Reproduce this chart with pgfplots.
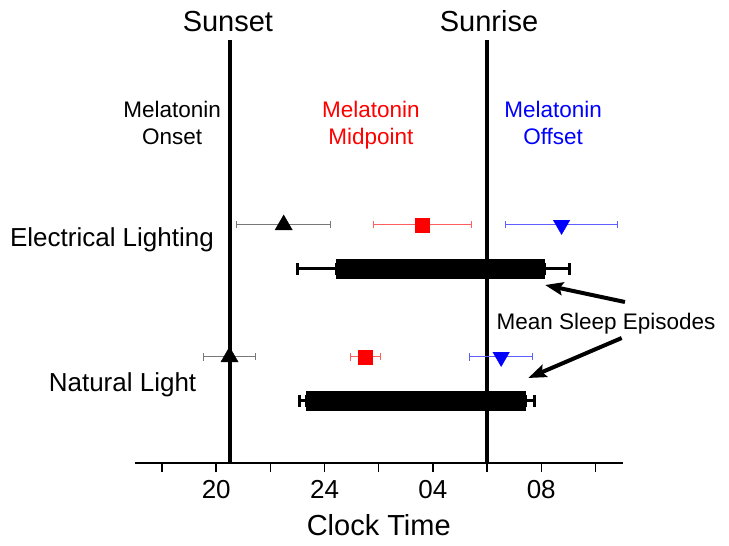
\documentclass[border=0pt]{standalone}
\usepackage{fontspec}
\setmainfont{Liberation Sans}
\usepackage{pgfplots}
\pgfplotsset{compat=1.18}
\usetikzlibrary{arrows.meta}

\definecolor{errgray}{RGB}{120,120,120}
\definecolor{errred}{RGB}{255,95,95}
\definecolor{errblue}{RGB}{95,95,255}

\newcommand\bigfont{\fontsize{29bp}{34bp}\selectfont}
\newcommand\midfont{\fontsize{26bp}{30bp}\selectfont}
\newcommand\smallfont{\fontsize{22.5bp}{27bp}\selectfont}

\begin{document}
\begin{tikzpicture}
\path[use as bounding box] (-135bp,-83bp) rectangle (594bp,463bp);
\begin{axis}[
    scale only axis,
    width=487.5bp, height=423bp,
    xmin=17, xmax=35, ymin=0, ymax=423,
    axis x line*=bottom, axis y line=none,
    x axis line style={line width=1.8bp, -},
    xtick={18,20,...,34},
    xticklabels={,20,,24,,04,,08,},
    tick align=outside,
    major tick length=9bp,
    xtick style={line width=1.5bp, black},
    xticklabel style={font=\fontsize{26bp}{30bp}\selectfont, yshift=-5bp},
    /pgf/number format/assume math mode=true,
    xlabel={Clock Time},
    xlabel style={font=\bigfont, at={(axis description cs:0.5,0)}, anchor=base, yshift=-72bp},
    clip=false,
]

% sunset / sunrise
\addplot[black, line width=4bp] coordinates {(20.5,0) (20.5,423)};
\addplot[black, line width=4bp] coordinates {(30.0,0) (30.0,423)};

% mean sleep episodes: whiskers then bar
\addplot[black, line width=3bp, mark=|, mark size=6bp, mark options={line width=3bp}]
    coordinates {(23.01,194) (24.43,194)};
\addplot[black, line width=3bp, mark=|, mark size=6bp, mark options={line width=3bp}]
    coordinates {(32.12,194) (33.03,194)};
\addplot[black, line width=20bp] coordinates {(24.43,194) (32.12,194)};

\addplot[black, line width=3bp, mark=|, mark size=6bp, mark options={line width=3bp}]
    coordinates {(23.09,62) (23.32,62)};
\addplot[black, line width=3bp, mark=|, mark size=6bp, mark options={line width=3bp}]
    coordinates {(31.42,62) (31.75,62)};
\addplot[black, line width=20bp] coordinates {(23.32,62) (31.42,62)};

% melatonin onset
\addplot[only marks, black, mark=triangle*, mark size=10bp,
    error bars/.cd, x dir=both, x explicit, error mark=|,
    error bar style={errgray, line width=1bp},
    error mark options={errgray, line width=1bp, mark size=3.5bp}]
    coordinates {(22.49,238) +- (1.73,0) (20.49,106) +- (0.95,0)};

% melatonin midpoint
\addplot[only marks, red, mark=square*, mark size=7bp,
    error bars/.cd, x dir=both, x explicit, error mark=|,
    error bar style={errred, line width=1bp},
    error mark options={errred, line width=1bp, mark size=3.5bp}]
    coordinates {(27.62,238) +- (1.82,0) (25.50,106) +- (0.55,0)};

% melatonin offset
\addplot[only marks, blue, mark=triangle*, mark size=9.5bp, mark options={rotate=180},
    error bars/.cd, x dir=both, x explicit, error mark=|,
    error bar style={errblue, line width=1bp},
    error mark options={errblue, line width=1bp, mark size=3.5bp}]
    coordinates {(32.75,238) +- (2.07,0) (30.52,106) +- (1.17,0)};

% annotations
\node[anchor=base, font=\bigfont] at (axis cs:20.43,431.3) {Sunset};
\node[anchor=base, font=\bigfont] at (axis cs:30.07,431.3) {Sunrise};

\node[anchor=base, font=\smallfont] at (axis cs:18.37,345.7) {Melatonin};
\node[anchor=base, font=\smallfont] at (axis cs:18.37,318) {Onset};
\node[anchor=base, font=\smallfont, red] at (axis cs:25.71,345.7) {Melatonin};
\node[anchor=base, font=\smallfont, red] at (axis cs:25.71,318) {Midpoint};
\node[anchor=base, font=\smallfont, blue] at (axis cs:32.44,345.7) {Melatonin};
\node[anchor=base, font=\smallfont, blue] at (axis cs:32.44,318) {Offset};

\node[anchor=base, font=\midfont] at (axis cs:16.15,216.3) {Electrical Lighting};
\node[anchor=base, font=\midfont] at (axis cs:16.54,72) {Natural Light};

\node[anchor=base, font=\smallfont] at (axis cs:34.39,133.7) {Mean Sleep Episodes};
\draw[line width=4bp, -{Stealth[length=18bp, width=13bp, inset=3bp]}]
    (axis cs:35.09,161) -- (axis cs:32.14,178);
\draw[line width=4bp, -{Stealth[length=18bp, width=13bp, inset=3bp]}]
    (axis cs:34.97,125) -- (axis cs:31.52,85);

\end{axis}
\end{tikzpicture}
\end{document}
